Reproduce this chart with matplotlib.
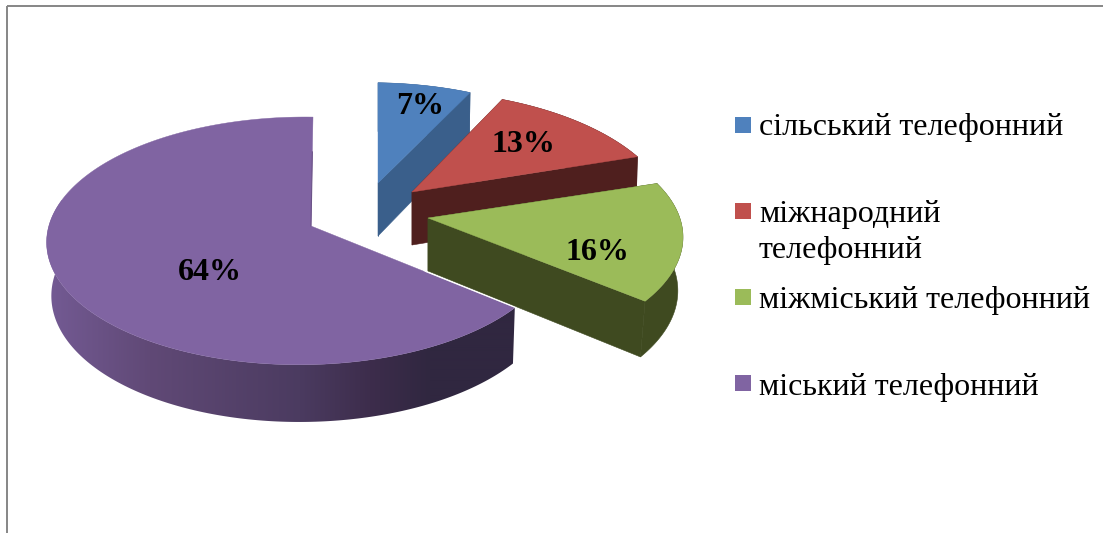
import numpy as np
import matplotlib
matplotlib.use("Agg")
import matplotlib.pyplot as plt
from matplotlib.patches import Polygon, Rectangle

categories = ["сільський телефонний", "міжнародний\nтелефонний", "міжміський телефонний", "міський телефонний"]
values = [7, 13, 16, 64]
labels = ["7%", "13%", "16%", "64%"]

top_colors = ["#4f81bd", "#c0504d", "#9bbb59", "#8064a2"]
side_colors = ["#3a5f8b", "#4f1f1e", "#3f4a20", None]
apexes = [(378, 183), (412, 192), (428, 218), (311, 226)]
scales = [(0.96, 0.92), (1.04, 1.04), (1.03, 0.99), (1.0, 1.0)]
tilts = [0.12, 0.25, 0.16, 0.12]
leans = [0.0, 0.0, 0.0, 2.0]
lower_scales = [0.99, 0.99, 0.975, 0.987]
label_pos = [(420, 103), (523, 142), (597, 249), (210, 269)]
legend_y = [125, 211, 297, 383]
legend_base = [135, 258, 308, 395]

A, B, M = 253.0, 122.0, 0.035
DEPTH = 53.0
FONT = "Liberation Serif"

fig = plt.figure(figsize=(11.03, 5.33), dpi=100, facecolor="white")
ax = fig.add_axes([0, 0, 1, 1])


def project(X, Y, i):
    w = 1 + tilts[i] * Y + M * X
    ap, sc = apexes[i], scales[i]
    return ap[0] + sc[0] * A * X / w + leans[i] * Y, ap[1] - sc[1] * B * Y / w


def lower(X, Y, px, py, i):
    d = DEPTH * (1 - 0.08 * Y)
    return apexes[i][0] + (px - apexes[i][0]) * (lower_scales[i] + 0.005 * X), py + d


grad_x = np.array([50, 150, 300, 370, 430, 520], float)
grad_r = np.array([0x73, 0x60, 0x4b, 0x3d, 0x30, 0x30], float)
grad_g = np.array([0x5a, 0x49, 0x3b, 0x2d, 0x27, 0x27], float)
grad_b = np.array([0x93, 0x76, 0x60, 0x4c, 0x40, 0x40], float)

total = sum(values)
start = 0.0
for i, v in enumerate(values):
    end = start + v / total * 2 * np.pi
    th = np.linspace(start, end, 240)
    X, Y = np.sin(th), np.cos(th)
    apex = apexes[i]
    px, py = project(X, Y, i)
    bx, by = lower(X, Y, px, py, i)
    ax0, ay0 = lower(0.0, 0.0, apex[0], apex[1], i)

    if side_colors[i] is not None:
        col = side_colors[i]
        for k in (0, -1):
            ax.add_patch(Polygon([(apex[0], apex[1]), (px[k], py[k]), (bx[k], by[k]), (ax0, ay0)],
                                 closed=True, fc=col, ec=col, lw=0.4, zorder=i * 3 + 1))
        ax.add_patch(Polygon(np.r_[np.c_[px, py], np.c_[bx, by][::-1]],
                             closed=True, fc=col, ec=col, lw=0.4, zorder=i * 3 + 2))
    else:
        xs = np.arange(40, 530)
        row = np.stack([np.interp(xs, grad_x, grad_r), np.interp(xs, grad_x, grad_g),
                        np.interp(xs, grad_x, grad_b)], axis=-1)[None, :, :] / 255
        im = ax.imshow(row, extent=(40, 530, 440, 200), aspect="auto", zorder=i * 3 + 2,
                       interpolation="bilinear")
        clip = Polygon(np.r_[np.c_[px, py], np.c_[bx, by][::-1]], closed=True,
                       transform=ax.transData)
        im.set_clip_path(clip)

    ax.add_patch(Polygon(np.r_[[apex], np.c_[px, py]], closed=True, fc=top_colors[i],
                         ec=top_colors[i], lw=0.3, zorder=i * 3 + 3))
    start = end

# white glint on the front cut of the big slice and thin shading on its back cut
share = values[0] + values[1] + values[2]
a_cut = share / total * 2 * np.pi
cx, cy = project(np.sin(a_cut), np.cos(a_cut), 3)
ap = apexes[3]
ax.plot([ap[0] + (cx - ap[0]) * 0.56, cx], [ap[1] + (cy - ap[1]) * 0.56 - 0.6, cy - 0.6],
        color="white", lw=0.8, zorder=12)
tx, ty = project(0.0, 1.0, 3)
ax.plot([ap[0], ap[0] + (tx - ap[0]) * 0.68], [ap[1], ap[1] + (ty - ap[1]) * 0.68],
        color="#6c5388", lw=0.8, zorder=12)

for (x, y), s in zip(label_pos, labels):
    ax.text(x, y + 3, s, ha="center", va="center", family=FONT, weight="bold",
            fontsize=23, color="black", zorder=20)

for y, b, c, col in zip(legend_y, legend_base, categories, top_colors):
    ax.add_patch(Rectangle((735, y - 8), 16, 16, fc=col, ec="none", zorder=20))
    ax.text(759, b, c, ha="left", va="baseline", family=FONT,
            fontsize=23, color="black", linespacing=1.3, zorder=20)

# chart frame
ax.plot([6.5, 6.5], [533, 5.5], color="#868686", lw=1.4, zorder=30, solid_capstyle="butt")
ax.plot([6.5, 1103], [5.5, 5.5], color="#868686", lw=1.4, zorder=30, solid_capstyle="butt")

ax.set_xlim(0, 1103)
ax.set_ylim(533, 0)
ax.axis("off")

fig.savefig("out.png", dpi=100)
